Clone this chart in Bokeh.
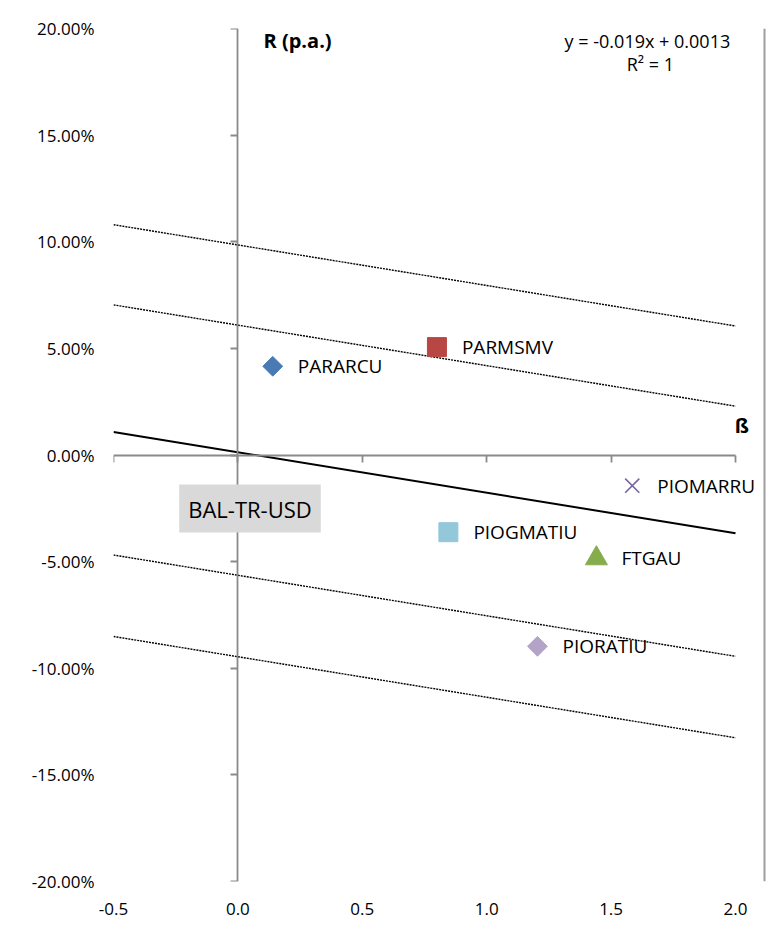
import numpy as np
from bokeh.plotting import figure
from bokeh.models import (Range1d, LinearAxis, FixedTicker, NumeralTickFormatter,
                          Label, Span)
from bokeh.embed import file_html
from bokeh.resources import INLINE

# ---- data ----
names = ["PARARCU", "PARMSMV", "PIOMARRU", "PIOGMATIU", "FTGAU", "PIORATIU"]
beta = [0.14, 0.80, 1.585, 0.846, 1.441, 1.204]
ret = [0.0416, 0.0506, -0.0144, -0.0362, -0.0485, -0.0897]

trend_slope = -0.019
trend_intercept = 0.0013
band_intercepts = [0.0985, 0.0609, -0.0564, -0.0946]   # dotted parallel lines

x_ticks = [-0.5, 0.0, 0.5, 1.0, 1.5, 2.0]
y_ticks = [-0.20, -0.15, -0.10, -0.05, 0.0, 0.05, 0.10, 0.15, 0.20]

benchmark = "BAL-TR-USD"
y_title = "R (p.a.)"
x_title = "ß"

# ---- styles ----
FONT = "Open Sans"
marker_style = {
    "PARARCU":  dict(marker="square", size=14, angle=np.pi / 4, fill_color="#4a7ab4", line_color="#4a7ab4"),
    "PARMSMV":  dict(marker="square", size=19, angle=0.0, fill_color="#b84743", line_color="#b84743"),
    "PIOMARRU": dict(marker="x", size=20, angle=0.0, fill_color=None, line_color="#7b65a0", line_width=1.6),
    "PIOGMATIU": dict(marker="square", size=19, angle=0.0, fill_color="#93c7da", line_color="#93c7da"),
    "FTGAU":    dict(marker="triangle", size=22, angle=0.0, fill_color="#86ac4c", line_color="#86ac4c"),
    "PIORATIU": dict(marker="square", size=14, angle=np.pi / 4, fill_color="#b3a3c9", line_color="#b3a3c9"),
}

# plot area extends a little past beta = 2.0 so that the right-hand labels and the
# chart border fit inside it (1 px = 0.5 / 124.4 beta units)
PX = 0.5 / 124.4
x_end = x_ticks[-1] + 32 * PX

p = figure(width=769, height=937, output_backend="svg", toolbar_location=None,
           x_range=Range1d(x_ticks[0], x_end), y_range=Range1d(y_ticks[0], y_ticks[-1]),
           min_border_left=113, min_border_right=2, min_border_top=28, min_border_bottom=56)
p.outline_line_color = None
p.xgrid.visible = False
p.ygrid.visible = False
p.background_fill_color = "white"
p.border_fill_color = "white"

# right chart border
p.add_layout(Span(location=x_ticks[-1] + 29 * PX, dimension="height",
                  line_color="#9e9e9e", line_width=2))

# label-only axes at the frame edges (Excel "low" label position)
ly = p.yaxis[0]
ly.ticker = FixedTicker(ticks=y_ticks)
ly.formatter = NumeralTickFormatter(format="0.00%")
ly.axis_line_color = None
ly.major_tick_line_color = None
ly.minor_tick_line_color = None
ly.major_tick_out = 0
ly.major_tick_in = 0
ly.major_label_standoff = 19
ly.major_label_text_font = FONT
ly.major_label_text_font_size = "17px"
ly.major_label_text_color = "black"

lx = p.xaxis[0]
lx.ticker = FixedTicker(ticks=x_ticks)
lx.formatter = NumeralTickFormatter(format="0.0")
lx.axis_line_color = None
lx.major_tick_line_color = None
lx.minor_tick_line_color = None
lx.major_tick_out = 0
lx.major_tick_in = 0
lx.major_label_standoff = 21
lx.major_label_text_font = FONT
lx.major_label_text_font_size = "17px"
lx.major_label_text_color = "black"

AXIS_COLOR = "#8a8a8a"
# axis lines crossing at zero, ticks pointing left / down, no labels of their own
ay = LinearAxis(fixed_location=0.0, ticker=FixedTicker(ticks=y_ticks),
                axis_line_color=AXIS_COLOR, axis_line_width=1.8,
                major_tick_line_color=AXIS_COLOR, major_tick_line_width=1.8,
                major_tick_in=0, major_tick_out=7, minor_tick_line_color=None,
                major_label_text_color=None, major_label_text_font_size="1px",
                major_label_standoff=0)
p.add_layout(ay, "left")
ax = LinearAxis(fixed_location=0.0, ticker=FixedTicker(ticks=x_ticks),
                bounds=(x_ticks[0], x_ticks[-1]),
                axis_line_color=AXIS_COLOR, axis_line_width=1.8,
                major_tick_line_color=AXIS_COLOR, major_tick_line_width=1.8,
                major_tick_in=7, major_tick_out=0, minor_tick_line_color=None,
                major_label_text_color=None, major_label_text_font_size="1px",
                major_label_standoff=0)
p.add_layout(ax, "above")

# dotted parallel lines
xs_line = np.array([x_ticks[0], x_ticks[-1]])
for b in band_intercepts:
    p.line(xs_line, trend_slope * xs_line + b, line_color="black", line_width=1.4, line_dash="2 1")

# trend line
p.line(xs_line, trend_slope * xs_line + trend_intercept, line_color="black", line_width=2)

# points and their labels
for n, bx, r in zip(names, beta, ret):
    st = dict(marker_style[n])
    p.scatter([bx], [r], **st)
    p.add_layout(Label(x=bx, y=r, text=n, x_offset=25, y_offset=0,
                       text_baseline="middle", text_align="left",
                       text_font=FONT, text_font_size="19px", text_color="black"))

# benchmark box
p.add_layout(Label(x=0.0486, y=-0.0251, text=benchmark, text_align="center", text_baseline="middle",
                   text_font=FONT, text_font_size="22px", text_color="black",
                   background_fill_color="#d9d9d9", padding=9))

# axis titles
p.add_layout(Label(x=0.103, y=0.1944, text=y_title, text_align="left", text_baseline="middle",
                   text_font=FONT, text_font_size="20px", text_font_style="bold", text_color="black"))
p.add_layout(Label(x=2.026, y=0.0139, text=x_title, text_align="center", text_baseline="middle",
                   text_font=FONT, text_font_size="20px", text_font_style="bold", text_color="black"))

# trendline equation
eq = f"y = {trend_slope}x + {trend_intercept}"
p.add_layout(Label(x=1.646, y=0.1941, text=eq, text_align="center", text_baseline="middle",
                   text_font=FONT, text_font_size="18px", text_color="black"))
p.add_layout(Label(x=1.658, y=0.1833, text="R² = 1", text_align="center", text_baseline="middle",
                   text_font=FONT, text_font_size="18px", text_color="black"))

open("out.html", "w").write(file_html(p, INLINE))
